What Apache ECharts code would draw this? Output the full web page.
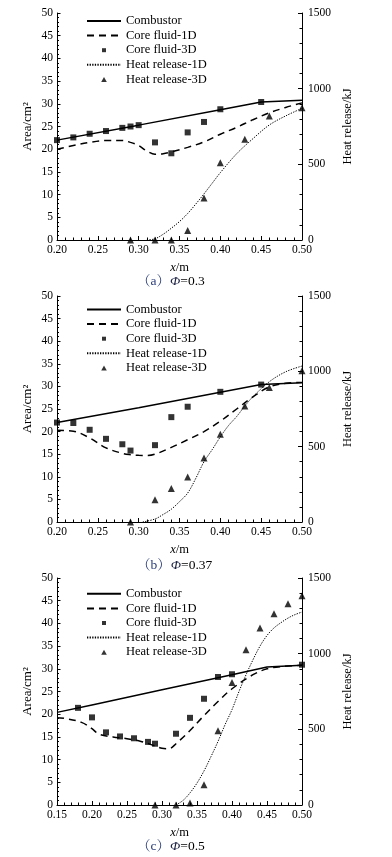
<!DOCTYPE html>
<html><head><meta charset="utf-8">
<script src="https://cdn.jsdelivr.net/npm/echarts@6/dist/echarts.min.js"></script>
<style>html,body{margin:0;padding:0;background:#fff}#c{width:392px;height:857px}</style>
</head><body><div id="c"></div>
<script>
// ---------- data ----------
const seriesNames = ['Combustor','Core fluid-1D','Core fluid-3D','Heat release-1D','Heat release-3D'];
const captions = ['a','b','c'];
const phiValues = ['0.3','0.37','0.5'];
const xMins = [0.20, 0.20, 0.15];
const areaTicks = [0, 50, 5];
const heatTicks = [0, 1500, 500];

// panel (a) Φ=0.3
const combX_a = [0.20,0.30,0.40,0.45,0.50];
const combY_a = [22.0,25.3,28.7,30.4,30.8];
const core1dX_a = [0.20,0.22,0.24,0.26,0.28,0.29,0.30,0.31,0.32,0.33,0.34,0.36,0.38,0.40,0.42,0.44,0.46,0.48,0.50];
const core1dY_a = [20.0,20.8,21.5,21.9,21.9,21.5,20.8,19.6,18.9,19.0,19.4,20.4,21.6,23.3,24.8,26.5,28.0,29.2,30.2];
const core3dX_a = [0.20,0.22,0.24,0.26,0.28,0.29,0.30,0.32,0.34,0.36,0.38,0.40,0.45];
const core3dY_a = [22.0,22.6,23.4,24.0,24.7,25.0,25.3,21.5,19.1,23.7,26.0,28.8,30.4];
const heat1dX_a = [0.31,0.32,0.33,0.34,0.35,0.36,0.37,0.38,0.39,0.40,0.42,0.44,0.46,0.48,0.50];
const heat1dY_a = [0,8,38,78,122,175,238,305,375,445,570,670,760,820,870];
const heat3dX_a = [0.29,0.32,0.34,0.36,0.38,0.40,0.43,0.46,0.50];
const heat3dY_a = [0,0,0,62,278,510,666,820,874];

// panel (b) Φ=0.37
const combX_b = [0.20,0.30,0.40,0.45,0.50];
const combY_b = [22.0,25.3,28.7,30.4,30.8];
const core1dX_b = [0.20,0.22,0.24,0.26,0.28,0.29,0.30,0.31,0.32,0.34,0.36,0.38,0.40,0.42,0.44,0.46,0.48,0.50];
const core1dY_b = [20.3,20.1,18.6,16.4,15.2,14.9,14.75,14.7,15.0,16.5,18.2,20.0,22.3,25.0,27.7,29.9,30.7,30.9];
const core3dX_b = [0.20,0.22,0.24,0.26,0.28,0.29,0.32,0.34,0.36,0.40,0.45];
const core3dY_b = [22.0,21.9,20.4,18.4,17.2,15.8,17.0,23.2,25.5,28.8,30.4];
const heat1dX_b = [0.305,0.32,0.33,0.34,0.35,0.36,0.37,0.38,0.39,0.40,0.41,0.42,0.43,0.44,0.46,0.48,0.50];
const heat1dY_b = [0,20,50,85,135,192,290,400,480,565,640,700,770,832,931,997,1035];
const heat3dX_b = [0.29,0.32,0.34,0.36,0.38,0.40,0.43,0.46,0.50];
const heat3dY_b = [0,148,223,298,424,582,770,893,1004];

// panel (c) Φ=0.5
const combX_c = [0.15,0.20,0.30,0.40,0.45,0.50];
const combY_c = [20.4,22.05,25.4,28.7,30.4,30.8];
const core1dX_c = [0.15,0.16,0.185,0.20,0.21,0.23,0.25,0.27,0.29,0.30,0.31,0.32,0.34,0.36,0.38,0.40,0.43,0.45,0.47,0.50];
const core1dY_c = [19.2,19.1,18.2,16.8,15.6,15.0,14.6,14.0,13.0,12.5,12.4,13.5,16.4,19.7,22.8,25.6,28.7,30.0,30.5,30.8];
const core3dX_c = [0.18,0.20,0.22,0.24,0.26,0.28,0.29,0.32,0.34,0.36,0.38,0.40,0.50];
const core3dY_c = [21.4,19.3,16.0,15.1,14.7,13.9,13.5,15.7,19.2,23.4,28.2,28.8,30.9];
const heat1dX_c = [0.32,0.33,0.34,0.35,0.36,0.37,0.38,0.39,0.40,0.41,0.42,0.43,0.44,0.45,0.46,0.47,0.48,0.49,0.50];
const heat1dY_c = [0,30,80,145,225,320,420,530,630,750,860,960,1050,1120,1170,1205,1235,1258,1275];
const heat3dX_c = [0.29,0.32,0.34,0.36,0.38,0.40,0.42,0.44,0.46,0.48,0.50];
const heat3dY_c = [0,0,13,134,491,810,1026,1170,1264,1330,1383];

const panels = [
  {comb:[combX_a,combY_a], c1:[core1dX_a,core1dY_a], c3:[core3dX_a,core3dY_a], h1:[heat1dX_a,heat1dY_a], h3:[heat3dX_a,heat3dY_a]},
  {comb:[combX_b,combY_b], c1:[core1dX_b,core1dY_b], c3:[core3dX_b,core3dY_b], h1:[heat1dX_b,heat1dY_b], h3:[heat3dX_b,heat3dY_b]},
  {comb:[combX_c,combY_c], c1:[core1dX_c,core1dY_c], c3:[core3dX_c,core3dY_c], h1:[heat1dX_c,heat1dY_c], h3:[heat3dX_c,heat3dY_c]}
];

// ---------- layout ----------
const FONT = "'Liberation Serif','Times New Roman',serif";
const CJK = "'Liberation Serif','Noto Serif CJK SC','Noto Sans CJK SC',serif";
const gridTops = [13, 296, 578];
const gridH = [227, 226, 227];
const legendTops = [9.5, 298, 582.3];
const captionTops = [274, 558, 839];
const zip = (xs, ys) => xs.map((x, i) => [x, ys[i]]);

// legend icons (square and triangle with padding so they stay small)
const squareIcon = 'path://M0,0M12,12M4,4H8V8H4Z';
const triangleIcon = 'path://M0,0M12,12M6,3.5L8.8,8.5L3.2,8.5Z';
const legendData = [
  {name: seriesNames[0], itemStyle: {opacity: 0}},
  {name: seriesNames[1], itemStyle: {opacity: 0}},
  {name: seriesNames[2], icon: squareIcon},
  {name: seriesNames[3], itemStyle: {opacity: 0}},
  {name: seriesNames[4], icon: triangleIcon}
];

const grid = [], xAxis = [], yAxis = [], legend = [], series = [], title = [];
panels.forEach((p, k) => {
  grid.push({left: 57, top: gridTops[k], width: 245, height: gridH[k]});
  xAxis.push({
    gridIndex: k, type: 'value', min: xMins[k], max: 0.5, interval: 0.05,
    name: '{i|x}/m', nameLocation: 'middle', nameGap: 21, nameMoveOverlap: false,
    nameTextStyle: {fontFamily: FONT, fontSize: 12.5, color: '#000',
      rich: {i: {fontFamily: FONT, fontSize: 12.5, fontStyle: 'italic', color: '#000'}}},
    axisLine: {show: true, onZero: false, lineStyle: {color: '#000', width: 1}},
    axisTick: {show: true, inside: true, length: 4, lineStyle: {color: '#000'}},
    minorTick: {show: true, splitNumber: 5, length: 2.5, lineStyle: {color: '#000'}},
    splitLine: {show: false},
    axisLabel: {margin: 4, fontFamily: FONT, fontSize: 11.5, color: '#000', formatter: v => v.toFixed(2)}
  });
  yAxis.push({
    gridIndex: k, type: 'value', position: 'left', min: areaTicks[0], max: areaTicks[1], interval: areaTicks[2],
    name: 'Area/cm²', nameLocation: 'middle', nameGap: 22.5, nameRotate: 90, nameMoveOverlap: false,
    nameTextStyle: {fontFamily: FONT, fontSize: 13, color: '#000'},
    axisLine: {show: true, lineStyle: {color: '#000', width: 1}},
    axisTick: {show: true, inside: true, length: 3.5, lineStyle: {color: '#000'}},
    minorTick: {show: true, splitNumber: 5, length: 2, lineStyle: {color: '#000'}},
    splitLine: {show: false},
    axisLabel: {margin: 4, fontFamily: FONT, fontSize: 11.5, color: '#000'}
  });
  yAxis.push({
    gridIndex: k, type: 'value', position: 'right', min: heatTicks[0], max: heatTicks[1], interval: heatTicks[2],
    name: 'Heat release/kJ', nameLocation: 'middle', nameGap: 39, nameRotate: 90, nameMoveOverlap: false,
    nameTextStyle: {fontFamily: FONT, fontSize: 12.5, color: '#000'},
    axisLine: {show: true, lineStyle: {color: '#000', width: 1}},
    axisTick: {show: true, inside: true, length: 4, lineStyle: {color: '#000'}},
    minorTick: {show: true, splitNumber: 5, length: 2.5, lineStyle: {color: '#000'}},
    splitLine: {show: false},
    axisLabel: {margin: 6, fontFamily: FONT, fontSize: 11.5, color: '#000', formatter: v => String(v)}
  });
  legend.push({
    orient: 'vertical', left: 81, top: legendTops[k], itemWidth: 34, itemHeight: 12, itemGap: 1.6,
    data: legendData, selectedMode: false,
    textStyle: {fontFamily: FONT, fontSize: 12.5, lineHeight: 12, color: '#000'}
  });
  const ax = 2 * k;
  series.push({name: seriesNames[0], type: 'line', xAxisIndex: k, yAxisIndex: ax, data: zip(...p.comb),
    symbol: 'none', lineStyle: {color: '#000', width: 1.5, type: 'solid'}, itemStyle: {color: '#000'}, z: 3});
  series.push({name: seriesNames[1], type: 'line', xAxisIndex: k, yAxisIndex: ax, data: zip(...p.c1),
    symbol: 'none', smooth: 0.35, lineStyle: {color: '#000', width: 1.5, type: [7, 5]}, itemStyle: {color: '#000'}, z: 3});
  series.push({name: seriesNames[2], type: 'scatter', xAxisIndex: k, yAxisIndex: ax, data: zip(...p.c3),
    symbol: 'rect', symbolSize: 6, itemStyle: {color: '#000'}, z: 4});
  series.push({name: seriesNames[3], type: 'line', xAxisIndex: k, yAxisIndex: ax + 1, data: zip(...p.h1),
    symbol: 'none', smooth: 0.35, lineStyle: {color: '#000', width: 1, type: [1.3, 1.3]}, itemStyle: {color: '#000'}, z: 3});
  series.push({name: seriesNames[4], type: 'scatter', xAxisIndex: k, yAxisIndex: ax + 1, data: zip(...p.h3),
    symbol: 'triangle', symbolSize: 7, itemStyle: {color: '#000'}, z: 4});
  title.push({
    text: '{p|（' + captions[k] + '）}{i|Φ}{n|=' + phiValues[k] + '}',
    left: 137, top: captionTops[k], padding: 0,
    textStyle: {fontSize: 13.5, fontWeight: 'normal', fontFamily: CJK,
      rich: {
        p: {fontFamily: CJK, fontSize: 13.5, color: '#2a3d7a'},
        i: {fontFamily: FONT, fontSize: 13.5, fontStyle: 'italic', color: '#1a2040'},
        n: {fontFamily: FONT, fontSize: 13.5, color: '#000'}
      }}
  });
});

const chart = echarts.init(document.getElementById('c'), null, {renderer: 'canvas'});
chart.setOption({animation: false, backgroundColor: '#fff', title, grid, xAxis, yAxis, legend, series});
</script></body></html>
